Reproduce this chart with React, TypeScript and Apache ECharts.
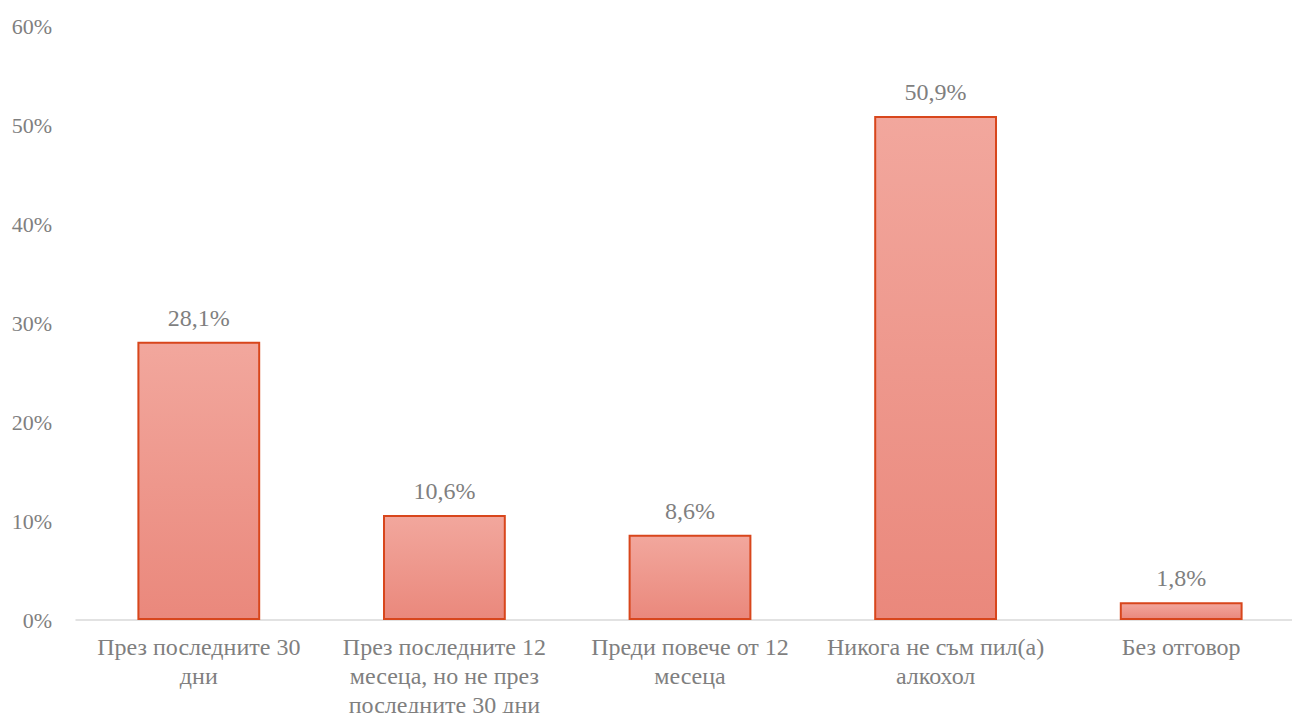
import React, { useEffect, useRef } from "react";
import * as echarts from "echarts";

const categories = [
  "През последните 30\nдни",
  "През последните 12\nмесеца, но не през\nпоследните 30 дни",
  "Преди повече от 12\nмесеца",
  "Никога не съм пил(а)\nалкохол",
  "Без отговор",
];
const values = [28.1, 10.6, 8.6, 50.9, 1.8];
const yTicks = { min: 0, max: 60, interval: 10 };

export default function App() {
  const ref = useRef<HTMLDivElement>(null);
  useEffect(() => {
    if (!ref.current) return;
    const chart = echarts.init(ref.current, undefined, { renderer: "svg" });
    const font = "Liberation Serif";
    chart.setOption({
      animation: false,
      textStyle: { fontFamily: font },
      grid: { left: 76, top: 26, width: 1228, height: 594, outerBoundsMode: "none", containLabel: false },
      xAxis: {
        type: "category",
        data: categories,
        axisLine: { lineStyle: { color: "#d9d9d9", width: 1.5 } },
        axisTick: { show: false },
        axisLabel: {
          color: "#7f7f7f",
          fontFamily: font,
          fontSize: 24,
          lineHeight: 29,
          margin: 12,
          interval: 0,
        },
      },
      yAxis: {
        type: "value",
        min: yTicks.min,
        max: yTicks.max,
        interval: yTicks.interval,
        splitLine: { show: false },
        axisLine: { show: false },
        axisTick: { show: false },
        axisLabel: {
          color: "#7f7f7f",
          fontFamily: font,
          fontSize: 22,
          margin: 24,
          formatter: "{value}%",
        },
      },
      series: [
        {
          type: "bar",
          data: values,
          barWidth: "50%",
          itemStyle: {
            color: new echarts.graphic.LinearGradient(0, 0, 0, 1, [
              { offset: 0, color: "#f2a79d" },
              { offset: 1, color: "#ea887c" },
            ]),
            borderColor: "#d8461c",
            borderWidth: 2,
          },
          label: {
            show: true,
            position: "top",
            distance: 12,
            color: "#7f7f7f",
            fontFamily: font,
            fontSize: 24,
            formatter: (p: any) => String(p.value.toFixed(1)).replace(".", ",") + "%",
          },
        },
      ],
    });
    return () => chart.dispose();
  }, []);
  return <div ref={ref} style={{ width: 1292, height: 713, position: "absolute", left: 0, top: 0 }} />;
}
